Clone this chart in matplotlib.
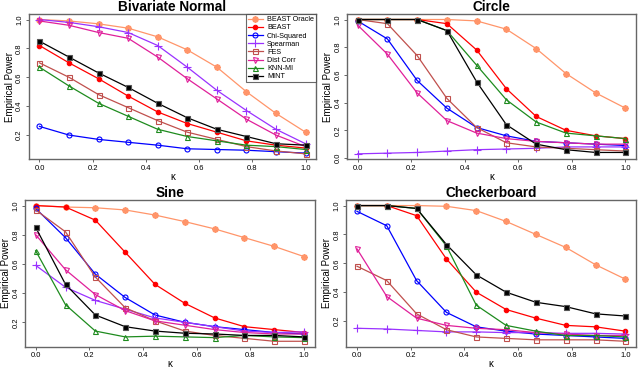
import matplotlib
matplotlib.use("Agg")
import matplotlib.pyplot as plt
import numpy as np

plt.rcParams["font.family"] = ["Liberation Sans", "DejaVu Sans"]

kappa = np.linspace(0, 1, 10)

methods = ["BEAST Oracle", "BEAST", "Chi-Squared", "Spearman", "FES", "Dist Corr", "KNN-MI", "MINT"]

normal_oracle = [1.0, 0.99, 0.97, 0.94, 0.88, 0.79, 0.67, 0.50, 0.35, 0.22]
normal_beast = [0.82, 0.70, 0.59, 0.47, 0.36, 0.28, 0.22, 0.16, 0.13, 0.11]
normal_chi = [0.26, 0.20, 0.17, 0.15, 0.13, 0.105, 0.10, 0.095, 0.085, 0.075]
normal_spearman = [1.0, 0.98, 0.95, 0.91, 0.82, 0.67, 0.51, 0.37, 0.24, 0.14]
normal_fes = [0.70, 0.60, 0.48, 0.39, 0.30, 0.22, 0.17, 0.12, 0.09, 0.07]
normal_dcor = [0.99, 0.96, 0.91, 0.87, 0.74, 0.59, 0.45, 0.31, 0.20, 0.12]
normal_knn = [0.67, 0.54, 0.42, 0.33, 0.24, 0.19, 0.16, 0.13, 0.12, 0.10]
normal_mint = [0.85, 0.74, 0.63, 0.53, 0.42, 0.32, 0.24, 0.19, 0.14, 0.13]

circle_oracle = [1.0, 1.0, 1.0, 1.0, 0.99, 0.93, 0.79, 0.61, 0.47, 0.36]
circle_beast = [1.0, 1.0, 1.0, 0.97, 0.78, 0.50, 0.30, 0.20, 0.16, 0.14]
circle_chi = [0.99, 0.86, 0.56, 0.36, 0.22, 0.16, 0.12, 0.11, 0.10, 0.09]
circle_spearman = [0.03, 0.035, 0.04, 0.05, 0.06, 0.065, 0.07, 0.08, 0.08, 0.08]
circle_fes = [1.0, 0.97, 0.74, 0.43, 0.22, 0.11, 0.08, 0.07, 0.06, 0.05]
circle_dcor = [0.96, 0.75, 0.47, 0.27, 0.18, 0.14, 0.12, 0.11, 0.10, 0.10]
circle_knn = [1.0, 1.0, 1.0, 0.92, 0.67, 0.42, 0.26, 0.18, 0.16, 0.14]
circle_mint = [1.0, 1.0, 1.0, 0.92, 0.55, 0.24, 0.10, 0.06, 0.04, 0.04]

sine_oracle = [1.0, 0.99, 0.985, 0.97, 0.935, 0.89, 0.84, 0.78, 0.72, 0.65]
sine_beast = [1.0, 0.99, 0.90, 0.68, 0.46, 0.33, 0.23, 0.17, 0.15, 0.13]
sine_chi = [0.98, 0.78, 0.53, 0.37, 0.25, 0.20, 0.17, 0.15, 0.13, 0.12]
sine_spearman = [0.59, 0.44, 0.35, 0.29, 0.23, 0.20, 0.17, 0.14, 0.13, 0.135]
sine_fes = [0.97, 0.82, 0.51, 0.30, 0.21, 0.14, 0.11, 0.09, 0.07, 0.07]
sine_dcor = [0.80, 0.56, 0.39, 0.28, 0.21, 0.18, 0.15, 0.13, 0.12, 0.12]
sine_knn = [0.69, 0.32, 0.14, 0.10, 0.105, 0.10, 0.095, 0.11, 0.10, 0.095]
sine_mint = [0.85, 0.46, 0.25, 0.17, 0.14, 0.125, 0.12, 0.11, 0.11, 0.10]

checker_oracle = [1.0, 1.0, 1.0, 0.995, 0.965, 0.89, 0.80, 0.71, 0.59, 0.49]
checker_beast = [1.0, 1.0, 0.93, 0.63, 0.40, 0.28, 0.22, 0.17, 0.16, 0.13]
checker_chi = [0.96, 0.86, 0.48, 0.26, 0.16, 0.13, 0.11, 0.10, 0.09, 0.08]
checker_spearman = [0.15, 0.145, 0.135, 0.125, 0.125, 0.12, 0.12, 0.115, 0.115, 0.11]
checker_fes = [0.58, 0.48, 0.25, 0.14, 0.09, 0.08, 0.07, 0.07, 0.07, 0.06]
checker_dcor = [0.70, 0.37, 0.22, 0.17, 0.15, 0.14, 0.12, 0.11, 0.10, 0.10]
checker_knn = [1.0, 1.0, 0.98, 0.72, 0.31, 0.17, 0.13, 0.10, 0.10, 0.09]
checker_mint = [1.0, 1.0, 0.98, 0.73, 0.52, 0.40, 0.33, 0.30, 0.25, 0.235]

panels = [
    ("Bivariate Normal", [normal_oracle, normal_beast, normal_chi, normal_spearman,
                          normal_fes, normal_dcor, normal_knn, normal_mint]),
    ("Circle", [circle_oracle, circle_beast, circle_chi, circle_spearman,
                circle_fes, circle_dcor, circle_knn, circle_mint]),
    ("Sine", [sine_oracle, sine_beast, sine_chi, sine_spearman,
              sine_fes, sine_dcor, sine_knn, sine_mint]),
    ("Checkerboard", [checker_oracle, checker_beast, checker_chi, checker_spearman,
                      checker_fes, checker_dcor, checker_knn, checker_mint]),
]

# (color, marker, filled)
styles = [
    ("#FF956A", (8, 2, 0), True),
    ("#FF0000", "o", True),
    ("#0000FF", "o", False),
    ("#9A32FF", "+", False),
    ("#C0504D", "s", False),
    ("#E0209A", "v", False),
    ("#1E8B1E", "^", False),
    ("#000000", "s", True),
]

positions = [
    (0.045, 0.572, 0.449, 0.390),
    (0.542, 0.572, 0.452, 0.390),
    (0.039, 0.068, 0.453, 0.394),
    (0.541, 0.068, 0.453, 0.394),
]

fig = plt.figure(figsize=(6.4, 3.72), dpi=100)
frame = "#666666"

for (title, series), pos in zip(panels, positions):
    ax = fig.add_axes(pos)
    for name, vals, (col, mk, filled) in zip(methods, series, styles):
        kw = dict(color=col, lw=0.9, marker=mk, ms=3.6, mew=0.8, label=name)
        if mk == "+":
            kw["ms"] = 5.5
        elif mk == (8, 2, 0):
            kw["ms"] = 4.5
            kw["mew"] = 1.3
        if filled:
            kw["mfc"] = col
            if name == "MINT":
                kw["mec"] = "#555555"
        else:
            kw["mfc"] = "none"
        if name == "BEAST":
            kw["ms"] = 3.2
        ax.plot(kappa, vals, **kw)
    allv = np.concatenate([np.asarray(v) for v in series])
    lo, hi = allv.min(), allv.max()
    pad = 0.04 * (hi - lo)
    ax.set_ylim(lo - pad, hi + pad)
    ax.set_xlim(-0.04, 1.04)
    ticks = [t for t in [0.0, 0.2, 0.4, 0.6, 0.8, 1.0] if lo - pad <= t <= hi + pad]
    ax.set_yticks(ticks)
    ax.set_yticklabels([f"{t:.1f}" for t in ticks], rotation=90, va="center")
    ax.set_xticks([0.0, 0.2, 0.4, 0.6, 0.8, 1.0])
    ax.set_xticklabels(["0.0", "0.2", "0.4", "0.6", "0.8", "1.0"])
    ax.tick_params(labelsize=5.5, length=2.5, width=0.7, color=frame, pad=1.5)
    for sp in ax.spines.values():
        sp.set_color(frame)
        sp.set_linewidth(1.0)
    ax.set_title(title, fontsize=9.8, fontweight="bold", pad=2)
    ax.set_ylabel("Empirical Power", fontsize=7, labelpad=1)
    ax.set_xlabel("\u03ba", fontsize=7, labelpad=0)
    if title == "Bivariate Normal":
        leg = ax.legend(loc="upper right", fontsize=5.2, frameon=True, fancybox=False,
                        borderpad=0.3, labelspacing=0.15, handlelength=2.0,
                        handletextpad=0.6, borderaxespad=0.0)
        leg.get_frame().set_edgecolor("#444444")
        leg.get_frame().set_linewidth(0.8)

fig.savefig("out.png", dpi=100, facecolor="white")
